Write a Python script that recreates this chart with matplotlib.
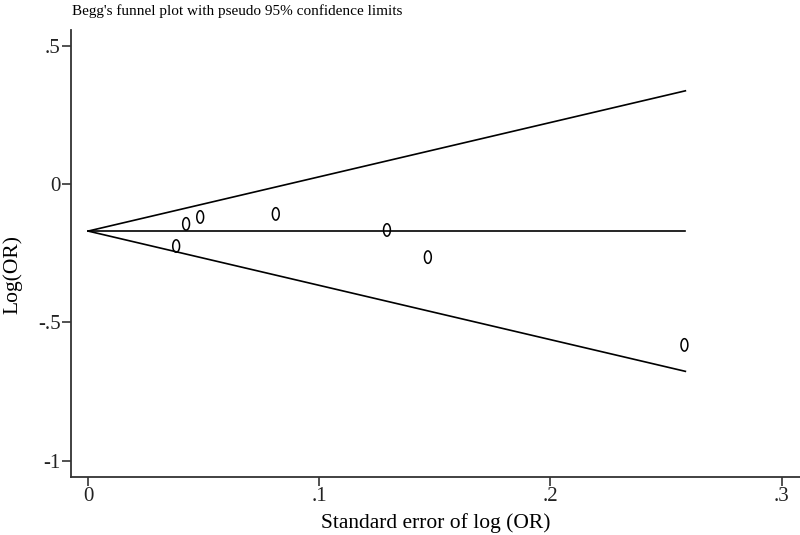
import numpy as np
import matplotlib
matplotlib.use("Agg")
import matplotlib.pyplot as plt
from matplotlib.path import Path

# study estimates
se = [0.0381, 0.0424, 0.0485, 0.0812, 0.1293, 0.1470, 0.2580]
log_or = [-0.224, -0.144, -0.119, -0.108, -0.166, -0.264, -0.581]
pooled = -0.170
se_max = 0.2584

xticks = [0, 0.1, 0.2, 0.3]
xticklabels = ["0", ".1", ".2", ".3"]
yticks = [0.5, 0, -0.5, -1]
yticklabels = [".5", "0", "-.5", "-1"]

plt.rcParams['font.family'] = ['Liberation Serif', 'DejaVu Serif']

# tall hollow ellipse like Stata's "O" symbol
t = np.linspace(0, 2 * np.pi, 60)
oval = Path(np.column_stack([0.55 * np.cos(t), np.sin(t)]))

fig = plt.figure(figsize=(8, 5.35), dpi=100)
ax = fig.add_axes([0.08875, 0.1084, 0.91125, 0.8355])

s = np.array([0, se_max])
ax.plot(s, pooled + 1.96 * s, color='black', lw=1.2)
ax.plot(s, pooled - 1.96 * s, color='black', lw=1.2)
ax.plot(s, [pooled, pooled], color='black', lw=1.2)
ax.scatter(se, log_or, marker=oval, s=80, facecolors='none',
           edgecolors='black', linewidths=1.1, zorder=3)

ax.set_xlim(-0.0074, 0.308)
ax.set_ylim(-1.058, 0.556)
ax.set_xticks(xticks)
ax.set_xticklabels(xticklabels)
ax.set_yticks(yticks)
ax.set_yticklabels(yticklabels)
ax.tick_params(direction='out', length=6.5, width=1.1, pad=1, labelsize=15, colors='#222222')
for side in ['top', 'right']:
    ax.spines[side].set_visible(False)
for side in ['left', 'bottom']:
    ax.spines[side].set_linewidth(1.3)
    ax.spines[side].set_color('#333333')

ax.set_xlabel("Standard error of log (OR)", fontsize=15.5, labelpad=5)
ax.set_ylabel("Log(OR)", fontsize=15.5)
ax.yaxis.set_label_coords(-0.066, 0.454)
fig.text(0.09, 0.993, "Begg's funnel plot with pseudo 95% confidence limits",
         fontsize=11, va='top', ha='left')

fig.savefig("out.png", dpi=100)
